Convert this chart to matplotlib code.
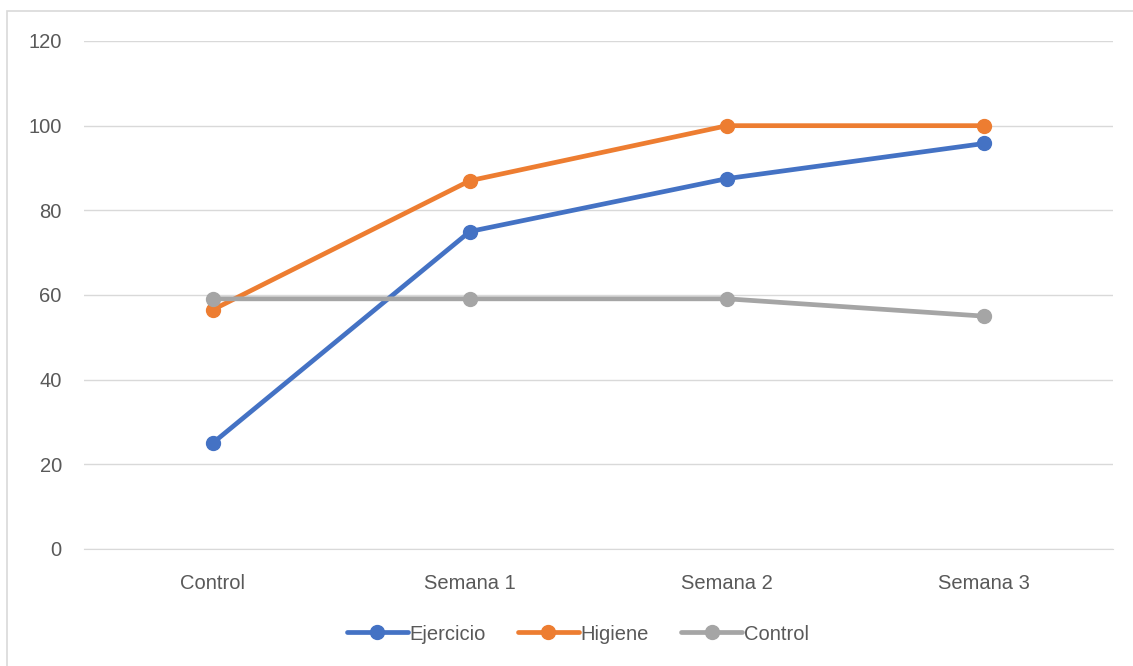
import matplotlib.pyplot as plt
from matplotlib.patches import Rectangle

categories = ["Control", "Semana 1", "Semana 2", "Semana 3"]
ejercicio = [25, 75, 87.5, 95.8]
higiene = [56.5, 87, 100, 100]
control = [59.1, 59.1, 59.1, 55]
yticks = [0, 20, 40, 60, 80, 100, 120]

plt.rcParams['font.family'] = ['Liberation Sans', 'DejaVu Sans']

W, H = 1133, 666
fig = plt.figure(figsize=(W / 100, H / 100), dpi=100)
fig.patches.append(Rectangle((7 / W, -0.01), 1.05, (H - 11) / H + 0.01,
                             transform=fig.transFigure, fill=False,
                             edgecolor='#d9d9d9', linewidth=1.2))

ax = fig.add_axes([84 / W, 117 / H, (1113 - 84) / W, (549 - 41) / H])
x = list(range(len(categories)))

series = [("Ejercicio", ejercicio, '#4472c4'),
          ("Higiene", higiene, '#ed7d31'),
          ("Control", control, '#a5a5a5')]
for name, vals, col in series:
    ax.plot(x, vals, color=col, linewidth=3.4, marker='o', markersize=10,
            solid_capstyle='round', label=name)

ax.set_xlim(-0.5, len(categories) - 0.5)
ax.set_ylim(0, 120)
ax.set_yticks(yticks)
ax.set_xticks(x)
ax.set_xticklabels(categories)
ax.grid(axis='y', color='#d9d9d9', linewidth=1)
ax.set_axisbelow(True)
for s in ['left', 'right', 'top']:
    ax.spines[s].set_visible(False)
ax.spines['bottom'].set_color('#d9d9d9')
ax.tick_params(axis='both', length=0, labelsize=14.5, labelcolor='#595959')
ax.tick_params(axis='y', pad=16)
ax.tick_params(axis='x', pad=18)

leg = fig.legend(loc='center', bbox_to_anchor=(578 / W, (H - 634) / H),
                 ncol=3, frameon=False, fontsize=14.5, handlelength=3.0,
                 columnspacing=1.6, handletextpad=0.1)
for t in leg.get_texts():
    t.set_color('#595959')

fig.savefig('out.png', dpi=100)
